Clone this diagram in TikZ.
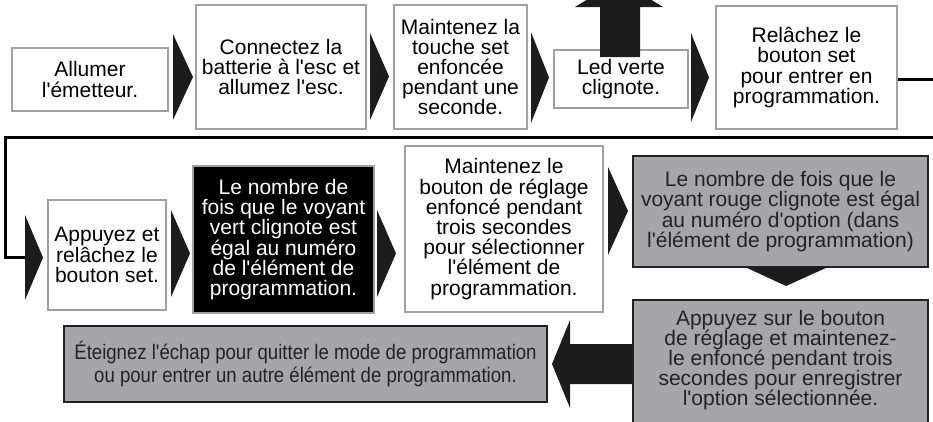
\documentclass[tikz,border=0pt]{standalone}
\usepackage{fontspec}
\setmainfont{Liberation Sans}[Ligatures=TeXOff]
\newfontfamily\narrowfont{Liberation Sans}[FakeStretch=0.885,Ligatures=TeXOff]
\usetikzlibrary{calc}
\definecolor{boxgrey}{RGB}{160,160,160}
\definecolor{fillgrey}{RGB}{166,166,170}
\definecolor{darkline}{RGB}{35,35,35}
\definecolor{arrowblack}{RGB}{28,28,28}
\begin{document}
\begin{tikzpicture}[x=1pt,y=-1pt,
  txt/.style={align=center, font=\fontsize{21}{20.2}\selectfont, inner sep=0pt},
  whitebox/.style={txt, draw=boxgrey, line width=2pt, fill=white, text=black},
  blackbox/.style={txt, draw=boxgrey, line width=2pt, fill=black, text=white},
  greybox/.style={txt, draw=darkline, line width=2.5pt, fill=fillgrey, text=darkline},
  arrowshape/.style={fill=arrowblack},
  conn/.style={draw=black, line width=3pt}]
\useasboundingbox (0,0) rectangle (933,421);
\fill[white] (0,0) rectangle (933,421);

% connector line from row 1 to row 2
\coordinate (c1) at (897,79);
\coordinate (c2) at (945,79);
\coordinate (c3) at (945,137);
\coordinate (c4) at (5,137);
\coordinate (c5) at (5,257);
\coordinate (c6) at (32,257);
\draw[conn] (c1) -- (c2) -- (c3) -- (c4) -- (c5) -- (c6);

% row 1
\node[whitebox, minimum width=156pt, minimum height=63pt] (b1) at (90,79.5) {Allumer\\l'émetteur.};
\node[whitebox, minimum width=170pt, minimum height=124pt] (b2) at (281,67) {Connectez la\\batterie à l'esc et\\allumez l'esc.};
\node[whitebox, minimum width=133pt, minimum height=124pt] (b3) at (460.5,67) {Maintenez la\\touche set\\enfoncée\\pendant une\\seconde.};
\node[whitebox, minimum width=134pt, minimum height=58pt] (b4) at (621,79) {Led verte\\clignote.};
\node[whitebox, minimum width=181pt, minimum height=123pt] (b5) at (806.5,67.5) {Relâchez le\\bouton set\\pour entrer en\\programmation.};

\fill[arrowshape] (173,34) -- (193,77) -- (173,120) -- cycle;
\fill[arrowshape] (370,33) -- (389,76.5) -- (370,120) -- cycle;
\fill[arrowshape] (531,32) -- (549,77.5) -- (531,123) -- cycle;
\fill[arrowshape] (691,33) -- (709,77.5) -- (691,122) -- cycle;
% up arrow out of the Led box
\fill[arrowshape] (600,57) -- (600,7) -- (575,7) -- (619,-20) -- (663,7) -- (640,7) -- (640,57) -- cycle;

% row 2
\node[whitebox, minimum width=118pt, minimum height=110pt] (b6) at (107,255) {Appuyez et\\relâchez le\\bouton set.};
\node[blackbox, minimum width=181pt, minimum height=147pt] (b7) at (283.5,239.5) {Le nombre de\\fois que le voyant\\vert clignote est\\égal au numéro\\de l'élément de\\programmation.};
\node[whitebox, minimum width=198pt, minimum height=166pt] (b8) at (504,229) {Maintenez le\\bouton de réglage\\enfoncé pendant\\trois secondes\\pour sélectionner\\l'élément de\\programmation.};
\node[greybox, minimum width=295pt, minimum height=111pt] (g1) at (780.5,211.5) {Le nombre de fois que le\\voyant rouge clignote est égal\\au numéro d'option (dans\\l'élément de programmation)};

\fill[arrowshape] (25,215) -- (43,257.5) -- (25,300) -- cycle;
\fill[arrowshape] (171,210) -- (190,253.5) -- (171,297) -- cycle;
\fill[arrowshape] (377,210) -- (396,253.5) -- (377,297) -- cycle;
\fill[arrowshape] (608,167) -- (628,211) -- (608,255) -- cycle;

% row 3
\node[greybox, minimum width=295pt, minimum height=140pt] (g2) at (780.5,370) {};
\node[txt, text=darkline] (g2t) at (780.5,360) {Appuyez sur le bouton\\de réglage et maintenez-\\le enfoncé pendant trois\\secondes pour enregistrer\\l'option sélectionnée.};
\node[greybox, minimum width=483pt, minimum height=76pt, font=\narrowfont\fontsize{21}{22.5}\selectfont] (g3) at (305.5,364) {Éteignez l'échap pour quitter le mode de programmation\\ou pour entrer un autre élément de programmation.};

\fill[arrowshape] (745,267) -- (828,267) -- (786,286) -- cycle;
\fill[arrowshape] (632,344) -- (570,344) -- (570,320) -- (552,364) -- (570,408) -- (570,384) -- (632,384) -- cycle;
\end{tikzpicture}
\end{document}
